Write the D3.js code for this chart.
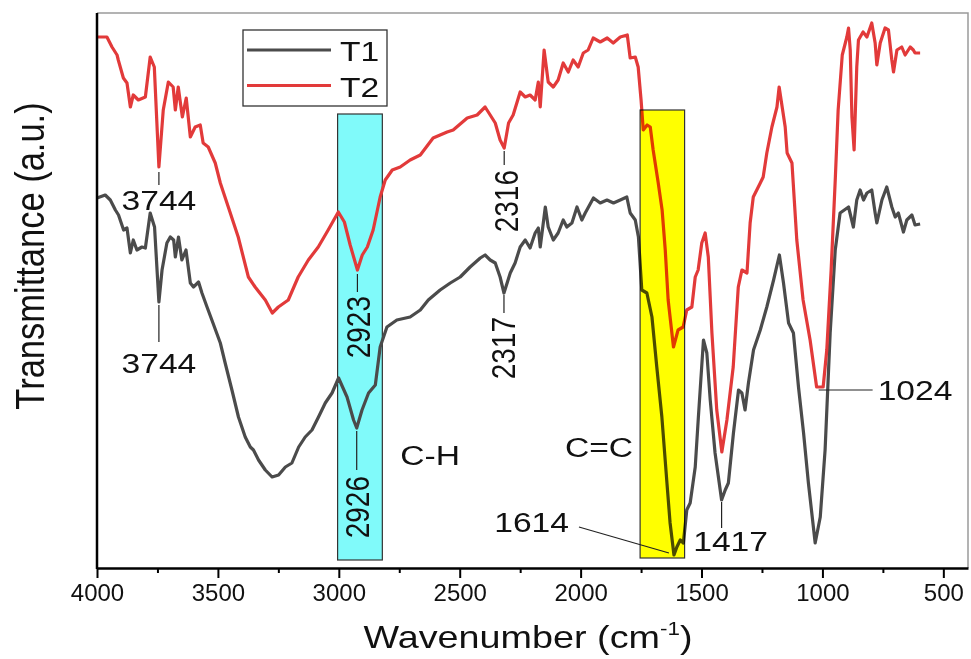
<!DOCTYPE html>
<html>
<head>
<meta charset="utf-8">
<script src="https://cdn.jsdelivr.net/npm/d3@7"></script>
<style>
  body { margin: 0; background: #fff; }
  svg { display: block; }
  text { font-family: "Liberation Sans", Arial, sans-serif; fill: #111; }
</style>
</head>
<body>
<div id="chart"></div>
<script>
// Spectrum T1 (grey), wavenumber in cm-1 and transmittance in a.u.
var wnT1 = [4000,3966,3945,3924,3911,3890,3876,3862,3850,3835,
  3814,3800,3780,3762,3744,3731,3711,3697,3683,3676,
  3663,3649,3632,3614,3601,3580,3566,3545,3525,3490,
  3470,3442,3415,3387,3366,3353,3332,3304,3276,3249,
  3221,3194,3166,3139,3111,3084,3056,3028,3001,2966,
  2939,2926,2904,2877,2849,2829,2801,2760,2705,2663,
  2630,2581,2539,2498,2457,2415,2395,2374,2353,2333,
  2317,2291,2271,2250,2229,2209,2188,2175,2167,2146,
  2134,2113,2093,2072,2057,2036,2015,1995,1981,1947,
  1919,1891,1864,1836,1809,1795,1774,1761,1747,1726,
  1705,1685,1664,1643,1630,1614,1602,1588,1575,1561,
  1547,1526,1513,1492,1478,1464,1444,1417,1402,1389,
  1368,1347,1333,1320,1306,1285,1257,1230,1202,1178,
  1161,1140,1120,1099,1078,1058,1030,1009,989,968,
  947,927,892,872,858,844,830,816,796,782,
  775,754,734,713,699,686,665,651,630,617,
  596];
var tT1 = [370,373,368,358,353,338,340,315,328,318,
  321,320,355,341,266,298,325,331,328,311,
  331,308,318,285,281,286,275,261,248,225,
  205,178,151,131,121,118,108,98,91,93,
  101,105,121,131,138,151,165,175,190,171,
  148,140,158,175,183,221,241,248,251,258,
  268,278,285,291,301,310,313,308,305,291,
  275,295,305,321,328,320,335,340,321,361,
  341,328,335,348,341,345,361,348,355,370,
  365,368,365,368,371,355,348,331,278,275,
  251,201,151,85,45,13,21,28,25,58,
  65,101,151,228,215,168,115,68,78,85,
  135,178,175,158,185,218,238,261,288,313,
  285,245,235,181,135,85,25,51,118,235,
  318,355,361,341,368,378,368,375,378,355,
  345,368,381,361,351,355,336,348,353,343,
  344];

// Spectrum T2 (red)
var wnT2 = [4000,3959,3938,3917,3912,3891,3876,3862,3850,3829,
  3800,3780,3763,3744,3726,3705,3685,3676,3664,3647,
  3631,3614,3594,3573,3561,3540,3511,3490,3457,3416,
  3374,3346,3304,3275,3250,3209,3168,3126,3085,3044,
  3002,2977,2953,2923,2903,2882,2858,2829,2808,2779,
  2746,2705,2663,2610,2552,2527,2469,2428,2395,2374,
  2353,2333,2316,2298,2279,2250,2229,2209,2188,2175,
  2167,2151,2134,2113,2093,2072,2051,2031,2010,1989,
  1969,1948,1919,1890,1865,1836,1807,1795,1774,1762,
  1750,1741,1725,1712,1700,1679,1663,1650,1638,1616,
  1597,1576,1561,1540,1526,1514,1499,1485,1472,1457,
  1437,1416,1395,1369,1348,1333,1312,1299,1286,1257,
  1245,1230,1209,1188,1179,1154,1146,1126,1106,1080,
  1051,1024,997,982,964,947,935,918,899,892,
  885,878,869,858,851,832,816,796,782,775,
  761,741,727,713,706,692,672,658,637,624,
  617,596];
var tT2 = [531,531,521,513,508,490,485,461,473,468,
  471,511,501,401,458,486,481,458,481,451,
  470,431,441,443,425,421,405,385,361,331,
  291,281,268,255,261,268,291,308,321,338,
  356,346,323,298,313,321,338,371,388,398,
  401,408,413,430,436,438,450,453,461,453,
  445,428,420,445,453,476,471,473,468,486,
  461,518,486,481,488,505,496,508,501,515,
  518,530,526,530,525,531,533,510,511,501,
  468,438,443,441,418,385,358,318,268,221,
  238,241,258,261,291,298,325,335,311,235,
  158,116,148,201,281,298,295,345,371,385,
  391,415,441,461,481,441,415,405,328,268,
  228,181,181,218,298,388,458,513,531,540,
  518,451,418,501,528,536,531,545,525,503,
  525,540,538,508,496,518,521,513,521,518,
  515,515];

var seriesNames = ["T1", "T2"];
var xTicks = [4000, 3500, 3000, 2500, 2000, 1500, 1000, 500];
var xMinorTicks = [3750, 3250, 2750, 2250, 1750, 1250, 750];

// highlighted bands (wavenumber range, transmittance range)
var bandLabels = ["C-H", "C=C"];
var bandFrom = [3005, 1754];
var bandTo = [2820, 1570];
var bandTop = [454, 458];
var bandBottom = [8, 10];

// peak labels and the spectrum they belong to
var peakLabels = ["3744", "3744", "2923", "2926", "2316", "2317", "1614", "1417", "1024"];
var peakWn = [3744, 3744, 2923, 2926, 2316, 2317, 1614, 1417, 1024];
var peakSeries = ["T2", "T1", "T2", "T1", "T2", "T1", "T1", "T1", "T2"];

// ---- layout ----
var W = 971, H = 659
  , m = {left: 97, right: 968, top: 13, bottom: 568}
  , colors = {T1: "#4b4b4b", T2: "#e23a3a"}
  , sx = 1.2;   // the figure is a little stretched sideways

var svg = d3.select("#chart").append("svg")
  .attr("width", W)
  .attr("height", H);

var x = d3.scaleLinear().domain([4000, 398]).range([m.left, m.right]);
var y = d3.scaleLinear().domain([0, 555]).range([m.bottom, m.top]);

var spectra = {
  T1: wnT1.map(function(d, i) { return {wn: d, t: tT1[i]}; }),
  T2: wnT2.map(function(d, i) { return {wn: d, t: tT2[i]}; })
};

function pointAt(name, wn) {
  var s = spectra[name];
  return s.reduce(function(a, b) { return Math.abs(b.wn - wn) < Math.abs(a.wn - wn) ? b : a; });
}

// text helper: stretched horizontally, optionally rotated
function addText(str, px, py, o) {
  var g = svg.append("g")
    .attr("transform", "translate(" + px + "," + py + ") scale(" + (o.sx || sx) + ",1)" + (o.rot ? " rotate(-90)" : ""));
  var t = g.append("text")
    .attr("text-anchor", o.anchor || "middle")
    .attr("font-size", o.size || 28)
    .attr("dy", o.dy || 0)
    .text(str);
  return t;
}

// cyan band under the curves
svg.append("rect")
  .attr("x", x(bandFrom[0]))
  .attr("y", y(bandTop[0]))
  .attr("width", x(bandTo[0]) - x(bandFrom[0]))
  .attr("height", y(bandBottom[0]) - y(bandTop[0]))
  .style("fill", "#80fafa")
  .style("stroke", "#333")
  .style("stroke-width", 1.2);

// frame (top / right thin grey)
svg.append("path")
  .attr("d", "M" + m.left + "," + m.top + "H" + m.right + "V" + m.bottom)
  .style("fill", "none")
  .style("stroke", "#9a9a9a")
  .style("stroke-width", 1.5);

// curves
var line = d3.line()
  .x(function(d) { return x(d.wn); })
  .y(function(d) { return y(d.t); });

seriesNames.forEach(function(name) {
  svg.append("path")
    .datum(spectra[name])
    .attr("d", line)
    .style("fill", "none")
    .style("stroke", colors[name])
    .style("stroke-width", 3.2)
    .style("stroke-linejoin", "round");
});

// yellow band, multiplied over the curves
svg.append("rect")
  .attr("x", x(bandFrom[1]))
  .attr("y", y(bandTop[1]))
  .attr("width", x(bandTo[1]) - x(bandFrom[1]))
  .attr("height", y(bandBottom[1]) - y(bandTop[1]))
  .style("fill", "#ffff00")
  .style("mix-blend-mode", "multiply")
  .style("stroke", "#333")
  .style("stroke-width", 1.2);

// axes
var xAxis = svg.append("g")
  .attr("transform", "translate(0," + m.bottom + ")")
  .call(d3.axisBottom(x).tickValues(xTicks).tickSize(10).tickSizeOuter(0).tickPadding(6).tickFormat(d3.format("d")));
xAxis.select(".domain").style("stroke", "#000").style("stroke-width", 2.5);
xAxis.selectAll(".tick line").style("stroke", "#000").style("stroke-width", 2);
xAxis.selectAll(".tick text")
  .attr("font-size", 24)
  .attr("font-family", "\"Liberation Sans\", Arial, sans-serif")
  .style("fill", "#111");

var xMinor = svg.append("g")
  .attr("transform", "translate(0," + m.bottom + ")")
  .call(d3.axisBottom(x).tickValues(xMinorTicks).tickSize(5).tickSizeOuter(0).tickFormat(""));
xMinor.select(".domain").remove();
xMinor.selectAll(".tick line").style("stroke", "#000").style("stroke-width", 2);

svg.append("line")
  .attr("x1", m.left).attr("x2", m.left)
  .attr("y1", m.top).attr("y2", m.bottom + 1)
  .style("stroke", "#000")
  .style("stroke-width", 2.5);

// axis titles
var xt = addText("", 528, 648, {size: 32, sx: 1.18});
xt.append("tspan").text("Wavenumber (cm");
xt.append("tspan").attr("font-size", 19).attr("dy", -13).text("-1");
xt.append("tspan").attr("dy", 13).text(")");

addText("Transmittance (a.u.)", 30, 256, {size: 34.5, rot: true, dy: "0.35em"});

// peak annotations: leader line and label, offsets relative to the peak point
var peakLayout = [
  {line: [0, 5, 0, 18], text: [0, 43], rot: false},
  {line: [0, 3, 0, 40], text: [0, 71], rot: false},
  {line: [0, 4, 0, 22], text: [1, 26], rot: true},
  {line: [0, 3, 0, 42], text: [1, 48], rot: true},
  {line: [0, 3, 0, 17], text: [2, 22], rot: true},
  {line: [0, 2, 0, 20], text: [-1, 24], rot: true},
  {line: [-5, -2, -95, -28], text: [-105, -23], rot: false, anchor: "end"},
  {line: [0, 2, 0, 28], text: [9, 51], rot: false},
  {line: [2, 3, 56, 3], text: [61, 13], rot: false, anchor: "start"}
];

peakLabels.forEach(function(lbl, i) {
  var p = pointAt(peakSeries[i], peakWn[i])
    , px = x(p.wn)
    , py = y(p.t)
    , L = peakLayout[i];
  svg.append("line")
    .attr("x1", px + L.line[0]).attr("y1", py + L.line[1])
    .attr("x2", px + L.line[2]).attr("y2", py + L.line[3])
    .style("stroke", "#222")
    .style("stroke-width", 1.2);
  if (L.rot) {
    addText(lbl, px + L.text[0], py + L.text[1], {size: 28, rot: true, anchor: "end", dy: "0.35em"});
  } else {
    addText(lbl, px + L.text[0], py + L.text[1], {size: 28, anchor: L.anchor || "middle"});
  }
});

// band labels
addText(bandLabels[0], x(bandTo[0]) + 18, 465, {size: 28, anchor: "start"});
addText(bandLabels[1], x(bandFrom[1]) - 7, 457, {size: 28, anchor: "end"});

// legend
var lg = {x: 243, y: 30, w: 144, h: 76};
svg.append("rect")
  .attr("x", lg.x).attr("y", lg.y)
  .attr("width", lg.w).attr("height", lg.h)
  .style("fill", "#fff")
  .style("stroke", "#333")
  .style("stroke-width", 1.3);

seriesNames.forEach(function(name, i) {
  var ly = lg.y + 20 + i * 35.5;
  svg.append("line")
    .attr("x1", lg.x + 4).attr("x2", lg.x + 88)
    .attr("y1", ly).attr("y2", ly)
    .style("stroke", colors[name])
    .style("stroke-width", 3);
  addText(name, lg.x + 97, ly + 11, {size: 28, anchor: "start"});
});
</script>
</body>
</html>
